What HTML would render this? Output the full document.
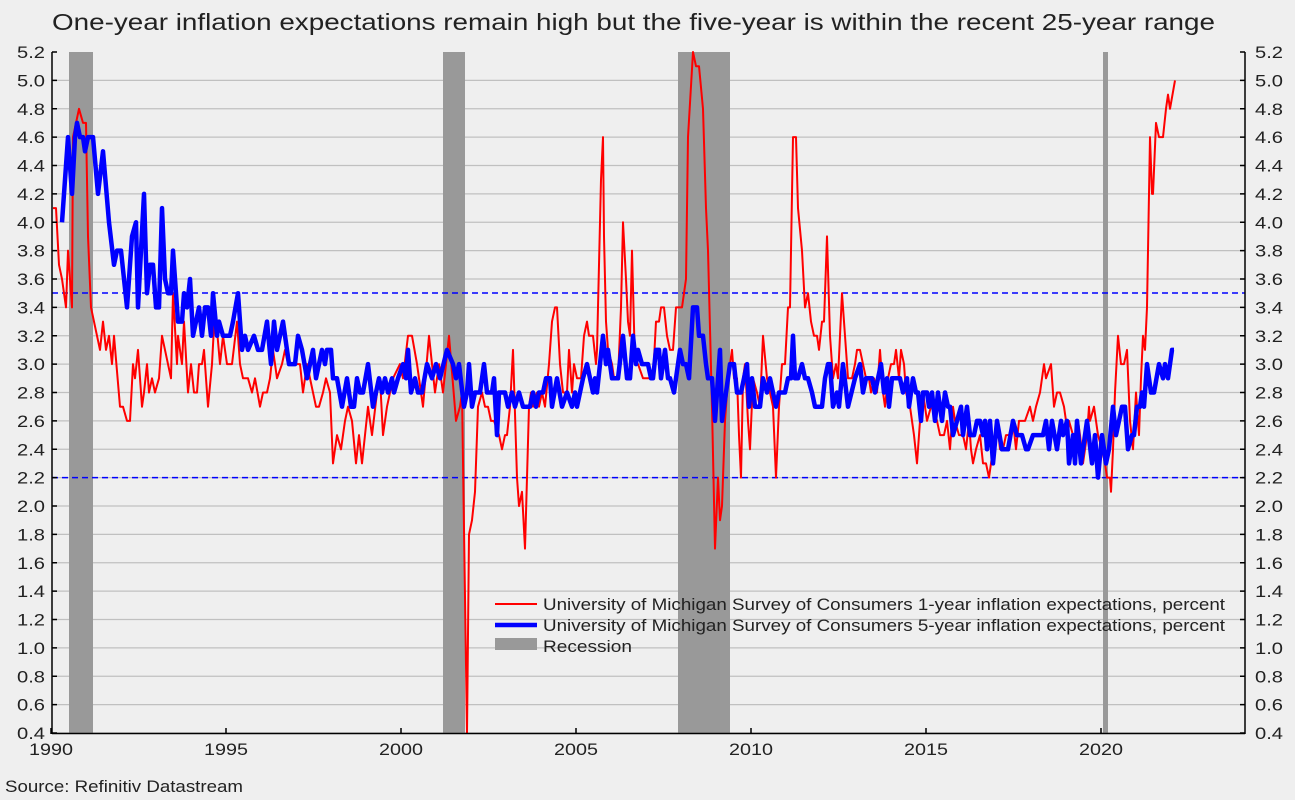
<!DOCTYPE html>
<html><head><meta charset="utf-8"><style>
html,body{margin:0;padding:0;background:#efefef;}
svg{display:block;font-family:"Liberation Sans",Arial,sans-serif;}
</style></head><body>
<svg id="c" width="1295" height="800" viewBox="0 0 1295 800">
<rect width="1295" height="800" fill="#efefef"/>
<text x="52" y="30" font-size="23" textLength="1163" lengthAdjust="spacingAndGlyphs" fill="#222">One-year inflation expectations remain high  but the five-year is within the recent 25-year range</text>
<g id="grid"></g>
<g fill="#999">
<rect x="69" y="52" width="24" height="681"/>
<rect x="443" y="52" width="22" height="681"/>
<rect x="678" y="52" width="52" height="681"/>
<rect x="1103" y="52" width="5" height="681"/>
</g>
<line x1="52" x2="1245" y1="293" y2="293" stroke="#0000ff" stroke-width="1.5" stroke-dasharray="6,4"/>
<line x1="52" x2="1245" y1="477.6" y2="477.6" stroke="#0000ff" stroke-width="1.5" stroke-dasharray="6,4"/>
<polyline id="red" fill="none" stroke="#ff0000" stroke-width="2" stroke-linejoin="round"/>
<polyline id="blue" fill="none" stroke="#0000ff" stroke-width="4.5" stroke-linejoin="round"/>
<g stroke="#000" stroke-width="1.5">
<line x1="52" y1="52" x2="52" y2="734"/>
<line x1="1245" y1="52" x2="1245" y2="734"/>
<line x1="52" y1="733.5" x2="1245" y2="733.5"/>
</g>
<g id="ticks"></g>
<g font-size="17" fill="#222">
<line x1="495" y1="604" x2="537" y2="604" stroke="#ff0000" stroke-width="2"/>
<text x="543" y="610" textLength="682" lengthAdjust="spacingAndGlyphs">University of Michigan Survey of Consumers 1-year inflation expectations, percent</text>
<line x1="495" y1="625" x2="537" y2="625" stroke="#0000ff" stroke-width="4.5"/>
<text x="543" y="631" textLength="682" lengthAdjust="spacingAndGlyphs">University of Michigan Survey of Consumers 5-year inflation expectations, percent</text>
<rect x="495" y="638" width="42" height="12" fill="#999"/>
<text x="543" y="652" textLength="89" lengthAdjust="spacingAndGlyphs">Recession</text>
<text x="5" y="792" textLength="238" lengthAdjust="spacingAndGlyphs">Source: Refinitiv Datastream</text>
</g>
</svg>
<script>
var NS="http://www.w3.org/2000/svg";
function Y(v){return 52+(5.2-v)*141.875;}
var g=document.getElementById('grid'),t=document.getElementById('ticks');
function el(p,n,a,txt){var e=document.createElementNS(NS,n);for(var k in a)e.setAttribute(k,a[k]);if(txt)e.textContent=txt;p.appendChild(e);}
for(var i=0;i<=24;i++){var v=0.4+i*0.2,y=Y(v);
 if(i<24)el(g,'line',{x1:52,x2:1245,y1:y,y2:y,stroke:'#c0c0c0','stroke-width':1.2});
 el(t,'line',{x1:52,x2:57,y1:y,y2:y,stroke:'#000','stroke-width':1.5});
 el(t,'line',{x1:1240,x2:1245,y1:y,y2:y,stroke:'#000','stroke-width':1.5});
 el(t,'text',{x:17,y:y+6,'font-size':17,textLength:28,lengthAdjust:'spacingAndGlyphs',fill:'#222'},v.toFixed(1));
 el(t,'text',{x:1255,y:y+6,'font-size':17,textLength:28,lengthAdjust:'spacingAndGlyphs',fill:'#222'},v.toFixed(1));
}
for(var j=0;j<7;j++){var x=51+j*175;
 el(t,'line',{x1:x,x2:x,y1:728,y2:734,stroke:'#000','stroke-width':1.5});
 el(t,'text',{x:x-22,y:755,'font-size':17,textLength:44,lengthAdjust:'spacingAndGlyphs',fill:'#222'},String(1990+5*j));}
var red=[53,4.1,56,4.1,59,3.7,62,3.6,66,3.4,68,3.8,72,3.4,73,4.6,79,4.8,83,4.7,86,4.7,88,3.9,91,3.4,100,3.1,103,3.3,106,3.1,109,3.2,112,3.0,114,3.2,120,2.7,123,2.7,127,2.6,130,2.6,133,3.0,135,2.9,138,3.1,142,2.7,144,2.8,147,3.0,149,2.8,152,2.9,155,2.8,159,2.9,162,3.2,171,2.9,173,3.5,177,3.0,178,3.2,182,3.0,184,3.3,188,2.8,191,3.0,194,2.8,197,2.8,199,3.0,202,3.0,204,3.1,208,2.7,212,3.0,215,3.4,220,3.0,223,3.2,227,3.0,232,3.0,237,3.3,240,3.0,243,2.9,248,2.9,252,2.8,255,2.9,260,2.7,263,2.8,267,2.8,270,2.9,273,3.1,277,2.9,282,3.0,285,3.1,288,3.0,300,3.0,303,2.8,307,3.0,310,2.9,316,2.7,319,2.7,323,2.8,326,2.9,330,2.8,333,2.3,337,2.5,341,2.4,345,2.6,348,2.7,352,2.6,356,2.3,359,2.5,362,2.3,368,2.7,372,2.5,377,2.8,380,2.9,383,2.5,387,2.7,390,2.8,393,2.9,400,3.0,403,2.9,408,3.2,412,3.2,417,3.0,423,2.7,429,3.2,435,2.8,439,3.0,443,2.8,449,3.2,456,2.6,460,2.7,462,2.8,467,0.4,469,1.8,472,1.9,475,2.1,478,2.7,482,2.8,485,2.7,488,2.7,491,2.6,494,2.6,499,2.5,502,2.4,505,2.5,507,2.5,510,2.7,513,3.1,517,2.2,519,2.0,522,2.1,525,1.7,529,2.7,531,2.8,533,2.7,537,2.8,539,2.7,542,2.8,545,2.7,549,3.0,552,3.3,555,3.4,557,3.4,560,3.0,563,2.8,567,2.8,569,3.1,572,2.8,574,3.0,577,2.9,581,2.9,584,3.2,587,3.3,589,3.2,593,3.2,596,3.0,597,3.1,600,4.0,601,4.3,603,4.6,604,3.9,606,3.3,608,3.1,612,3.0,614,2.9,618,2.9,621,3.4,623,4.0,626,3.6,628,3.3,630,3.2,632,3.8,635,3.0,638,3.0,643,2.9,650,2.9,653,2.9,656,3.3,659,3.3,661,3.4,664,3.4,667,3.2,670,3.1,673,3.1,676,3.4,682,3.4,686,3.6,688,4.6,693,5.2,696,5.1,699,5.1,703,4.8,706,4.1,708,3.8,712,2.7,715,1.7,718,2.2,720,1.9,722,2.0,725,2.6,728,2.9,732,3.1,734,2.9,737,2.9,739,2.5,741,2.2,743,2.9,745,3.0,748,2.6,750,2.4,753,2.9,757,2.8,760,2.7,763,3.2,767,2.9,770,2.8,773,2.7,776,2.2,779,2.7,782,3.0,785,3.0,788,3.4,790,3.4,793,4.6,796,4.6,798,4.1,802,3.8,805,3.4,808,3.5,811,3.3,814,3.2,817,3.2,819,3.1,822,3.3,824,3.3,827,3.9,830,3.2,833,2.9,836,3.0,838,2.9,842,3.5,845,3.2,848,2.9,852,2.9,855,3.0,857,3.1,860,3.1,863,3.0,866,2.9,869,2.9,871,2.8,874,2.9,877,2.8,880,3.1,883,2.8,885,2.7,888,2.9,891,3.0,894,3.0,896,3.1,899,2.9,901,3.1,904,3.0,906,2.8,910,2.7,914,2.5,917,2.3,920,2.6,923,2.8,927,2.6,931,2.7,934,2.7,937,2.6,940,2.5,944,2.5,947,2.6,950,2.4,953,2.7,955,2.6,959,2.5,963,2.5,966,2.4,969,2.6,971,2.4,973,2.3,976,2.4,980,2.5,983,2.3,986,2.3,989,2.2,993,2.4,997,2.6,1000,2.4,1003,2.4,1006,2.5,1009,2.5,1013,2.6,1016,2.4,1019,2.6,1022,2.6,1025,2.6,1030,2.7,1033,2.6,1036,2.7,1040,2.8,1044,3.0,1046,2.9,1051,3.0,1054,2.7,1057,2.8,1060,2.8,1064,2.7,1066,2.6,1069,2.6,1073,2.5,1076,2.4,1078,2.6,1080,2.5,1083,2.3,1085,2.4,1087,2.5,1089,2.7,1090,2.6,1094,2.7,1096,2.6,1098,2.5,1102,2.4,1105,2.3,1107,2.2,1110,2.2,1111,2.1,1113,2.4,1115,2.8,1118,3.2,1121,3.0,1124,3.0,1127,3.1,1130,2.6,1133,2.4,1136,2.8,1139,2.5,1141,2.9,1143,3.2,1145,3.1,1147,3.4,1150,4.6,1152,4.2,1153,4.2,1156,4.7,1159,4.6,1163,4.6,1166,4.8,1168,4.9,1170,4.8,1175,5.0];
var blue=[62,4.0,68,4.6,72,4.2,75,4.6,77,4.7,80,4.6,83,4.6,85,4.5,88,4.6,93,4.6,98,4.2,103,4.5,109,4.0,114,3.7,117,3.8,121,3.8,127,3.4,132,3.9,136,4.0,138,3.4,144,4.2,147,3.5,150,3.7,153,3.7,156,3.4,159,3.4,162,4.1,165,3.6,168,3.5,171,3.5,173,3.8,178,3.3,182,3.3,184,3.5,187,3.4,190,3.6,193,3.2,199,3.4,202,3.2,205,3.4,208,3.4,211,3.2,213,3.5,217,3.2,219,3.3,223,3.2,230,3.2,233,3.3,238,3.5,242,3.1,245,3.2,248,3.1,254,3.2,258,3.1,262,3.1,267,3.3,271,3.0,274,3.3,277,3.1,283,3.3,289,3.0,295,3.0,298,3.2,302,3.1,307,2.9,313,3.1,316,2.9,322,3.1,325,3.0,327,3.1,331,3.1,333,2.9,337,2.9,342,2.7,347,2.9,351,2.7,354,2.7,357,2.9,360,2.8,363,2.8,368,3.0,373,2.7,379,2.9,382,2.8,385,2.9,388,2.8,392,2.9,394,2.8,398,2.9,403,3.0,406,2.9,408,3.1,411,2.8,415,2.9,418,2.8,422,2.8,427,3.0,432,2.9,436,3.0,440,2.9,447,3.1,453,3.0,456,2.9,459,3.0,464,2.7,467,2.8,469,3.0,472,2.7,475,2.8,480,2.8,484,3.0,487,2.8,492,2.8,494,2.9,497,2.5,499,2.8,505,2.8,508,2.7,512,2.8,515,2.7,519,2.8,523,2.7,530,2.7,533,2.8,536,2.7,539,2.8,543,2.8,546,2.9,550,2.9,552,2.7,557,2.9,562,2.7,567,2.8,572,2.7,575,2.8,577,2.7,583,2.9,587,3.0,593,2.8,595,2.9,597,2.8,603,3.2,606,3.0,608,3.1,612,2.9,618,2.9,623,3.2,627,2.9,630,2.9,633,3.2,636,3.0,638,3.1,642,3.0,648,3.0,651,2.9,653,2.9,656,3.1,659,3.1,661,2.9,665,3.1,668,2.9,670,2.9,674,2.8,680,3.1,683,3.0,686,3.0,689,2.9,693,3.4,697,3.4,699,3.2,703,3.2,706,3.0,708,2.9,712,2.9,715,2.6,718,2.9,720,3.1,722,2.6,726,2.8,730,3.0,734,3.0,737,2.8,741,2.8,747,3.0,749,2.7,752,2.9,755,2.7,760,2.7,763,2.9,767,2.8,770,2.9,773,2.8,776,2.7,779,2.8,785,2.8,788,2.9,791,2.9,793,3.2,795,2.9,798,2.9,802,3.0,805,2.9,808,2.9,812,2.8,815,2.7,822,2.7,825,2.9,828,3.0,830,3.0,833,2.7,837,2.8,839,2.7,843,3.0,848,2.7,855,2.9,860,3.0,863,2.8,866,2.9,872,2.9,875,2.8,881,3.0,884,2.8,887,2.9,889,2.7,892,2.9,900,2.9,903,2.8,907,2.9,909,2.7,913,2.9,916,2.8,918,2.8,921,2.6,923,2.8,927,2.8,929,2.7,932,2.8,935,2.6,938,2.8,942,2.6,945,2.8,948,2.7,950,2.7,953,2.5,957,2.6,961,2.7,963,2.5,967,2.7,970,2.5,974,2.5,977,2.6,980,2.6,983,2.5,985,2.6,987,2.4,990,2.6,993,2.3,997,2.6,1002,2.4,1008,2.4,1013,2.6,1017,2.5,1022,2.5,1026,2.4,1028,2.4,1033,2.5,1043,2.5,1046,2.6,1049,2.4,1052,2.6,1057,2.4,1061,2.6,1063,2.5,1067,2.6,1069,2.3,1073,2.5,1075,2.3,1077,2.6,1081,2.3,1087,2.6,1092,2.3,1095,2.5,1098,2.2,1102,2.5,1106,2.3,1109,2.4,1113,2.7,1116,2.5,1122,2.7,1125,2.7,1128,2.4,1132,2.5,1134,2.5,1137,2.7,1140,2.7,1142,2.8,1144,2.7,1147,3.0,1151,2.8,1154,2.8,1159,3.0,1163,2.9,1165,3.0,1168,2.9,1172,3.1,1174,3.1];
function pts(a){var s=[];for(var i=0;i<a.length;i+=2)s.push(a[i]+','+Y(a[i+1]).toFixed(1));return s.join(' ');}
document.getElementById('red').setAttribute('points',pts(red));
document.getElementById('blue').setAttribute('points',pts(blue));
</script>
</body></html>
